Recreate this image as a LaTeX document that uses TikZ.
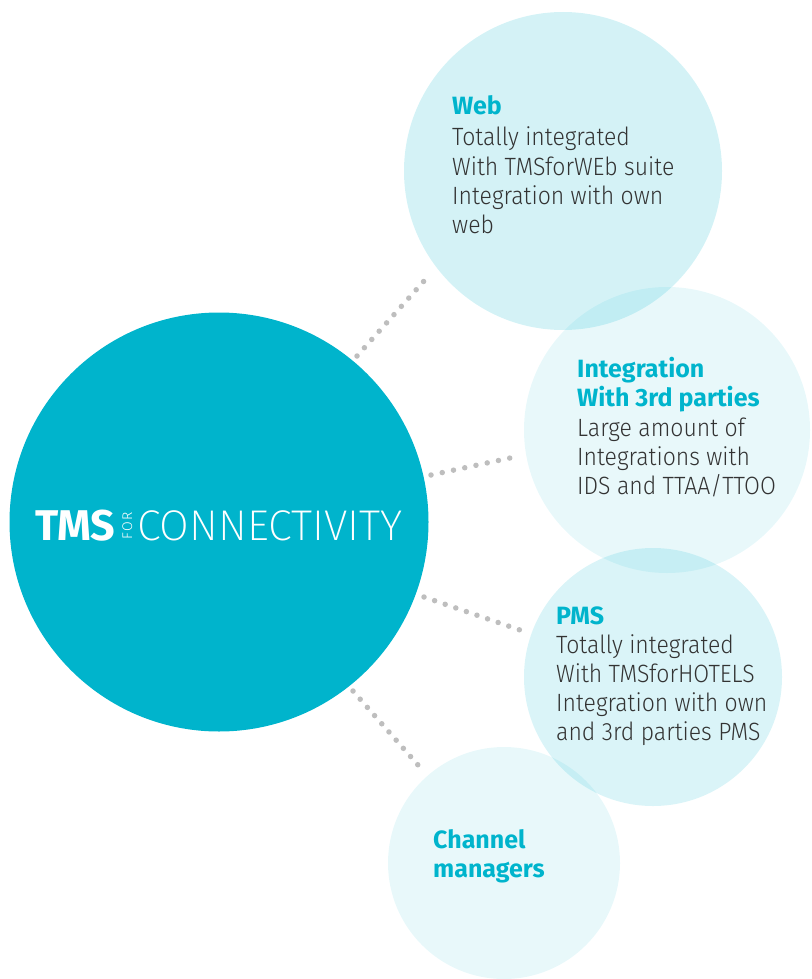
\documentclass[tikz,border=0pt]{standalone}
\usepackage{fontspec}
\newfontfamily\fira{Fira Sans}
\newfontfamily\firalight{Fira Sans Light}
\newfontfamily\firabody[FakeStretch=0.92]{Fira Sans Light}
\newfontfamily\firathin{Fira Sans ExtraLight}
\definecolor{tms}{HTML}{00B4CC}
\definecolor{dotgray}{HTML}{BEBEBE}
\definecolor{bodytext}{HTML}{333333}
\begin{document}
\begin{tikzpicture}[x=1pt,y=-1pt,
  bubble/.style={fill=tms,draw=none},
  dots/.style={draw=dotgray,line width=5.5pt,line cap=round,dash pattern=on 0pt off 11.2pt},
  title/.style={anchor=base west,inner sep=0pt,text=tms,font=\fira\bfseries\fontsize{25}{29}\selectfont},
  body/.style={anchor=base west,inner sep=0pt,text=bodytext,font=\firabody\fontsize{25}{29}\selectfont},
  logo/.style={anchor=base west,inner sep=0pt,text=white}]
\useasboundingbox (0,0) rectangle (811,979);
% bubbles
\fill[bubble,fill opacity=0.17] (563,171) circle[radius=159];
\fill[bubble,fill opacity=0.09] (667,430) circle[radius=143];
\fill[bubble,fill opacity=0.145] (653,677) circle[radius=129];
\fill[bubble,fill opacity=0.09] (504,863) circle[radius=116];
\node[bubble,circle,minimum size=419pt,inner sep=0pt] (main) at (219,522) {};
% connectors
\coordinate (a1) at (357,356); \coordinate (b1) at (424,281);
\coordinate (a2) at (431,475); \coordinate (b2) at (510,458);
\coordinate (a3) at (424,597); \coordinate (b3) at (520,630);
\coordinate (a4) at (353,691); \coordinate (b4) at (418,765);
\draw[dots,dash pattern=on 0pt off 11.1pt] (a1) -- (b1);
\draw[dots,dash pattern=on 0pt off 11.5pt] (a2) -- (b2);
\draw[dots] (a3) -- (b3);
\draw[dots,dash pattern=on 0pt off 10.9pt] (a4) -- (b4);
% logo
\node[logo,font=\fira\bfseries\fontsize{43}{43}\selectfont] (tmsw) at (35,540) {TMS};
\node[logo,font=\firalight\fontsize{14}{14}\selectfont,rotate=90,anchor=base west] (forw) at (132,540) {F\kern1.5ptO\kern1.5ptR};
\node[logo,font=\firathin\fontsize{43}{43}\selectfont] (conn) at (137,540) {CONNECTIVITY};
% web
\node[title] (webt) at (452,115) {Web};
\node[body] (web1) at (452,146) {Totally integrated};
\node[body] (web2) at (452,175) {With TMSforWEb suite};
\node[body] (web3) at (452,204) {Integration with own};
\node[body] (web4) at (452,233) {web};
% integration
\node[title] (intt1) at (577,377) {Integration};
\node[title] (intt2) at (577,406) {With 3rd parties};
\node[body] (int1) at (577,436) {Large amount of};
\node[body] (int2) at (577,465) {Integrations with};
\node[body] (int3) at (577,494) {IDS and TTAA/TTOO};
% pms
\node[title] (pmst) at (556,624) {PMS};
\node[body] (pms1) at (556,653) {Totally integrated};
\node[body] (pms2) at (556,682) {With TMSforHOTELS};
\node[body] (pms3) at (556,711) {Integration with own};
\node[body] (pms4) at (556,740) {and 3rd parties PMS};
% channel
\node[title] (cht1) at (433,848) {Channel};
\node[title] (cht2) at (433,877) {managers};
\end{tikzpicture}
\end{document}
